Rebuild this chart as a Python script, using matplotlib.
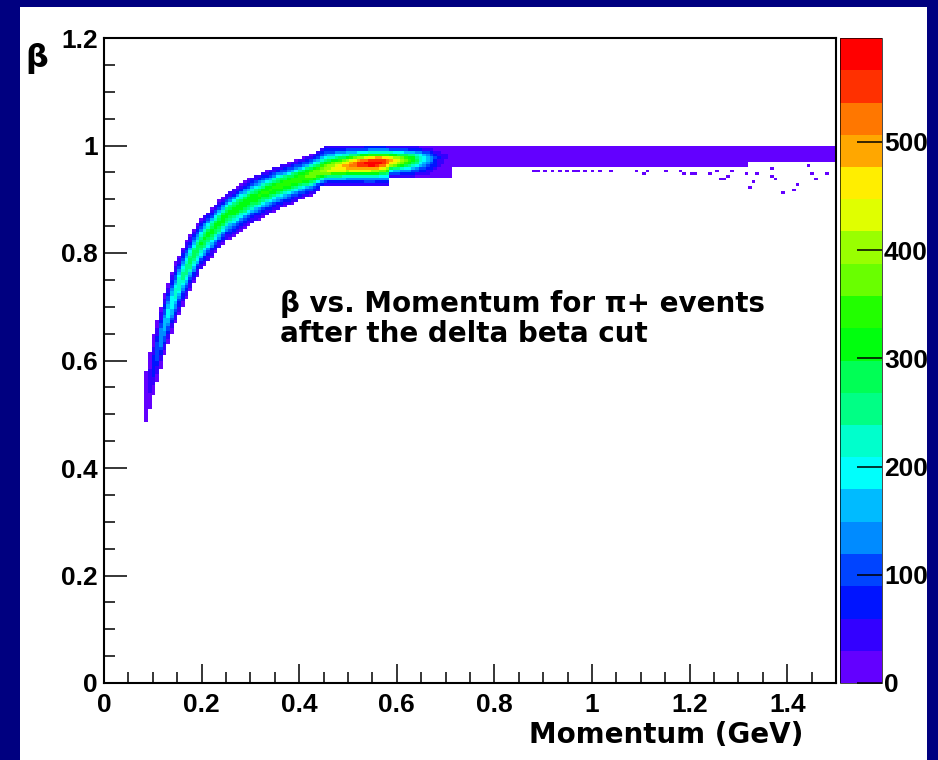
import colorsys
import numpy as np
import matplotlib
matplotlib.use("Agg")
import matplotlib.pyplot as plt
from matplotlib.colors import ListedColormap, BoundaryNorm
from matplotlib.patches import Rectangle
from matplotlib.ticker import FuncFormatter

# ---- pi+ beta vs momentum band (2D histogram contents) ----
# ridge of the band and the counts along it
ridge_momentum = [0.08, 0.09, 0.10, 0.11, 0.12, 0.14, 0.16, 0.18, 0.20, 0.25,
                  0.30, 0.35, 0.40, 0.45, 0.50, 0.53, 0.55, 0.57, 0.60, 0.63,
                  0.65, 0.67, 0.69, 0.71, 0.80, 1.00, 1.20, 1.40, 1.50]
ridge_beta = [0.50, 0.545, 0.585, 0.62, 0.655, 0.71, 0.755, 0.79, 0.82, 0.87,
              0.90, 0.922, 0.938, 0.952, 0.962, 0.966, 0.968, 0.970, 0.972, 0.974,
              0.976, 0.977, 0.978, 0.980, 0.981, 0.982, 0.984, 0.986, 0.986]
peak_counts = [5, 30, 80, 120, 160, 210, 250, 280, 300, 315,
               325, 335, 350, 400, 500, 570, 596, 570, 440, 330,
               230, 130, 45, 22, 20, 16, 12, 8, 6]

# upper and lower limits of the populated band
edge_momentum = [0.08, 0.09, 0.10, 0.11, 0.12, 0.14, 0.16, 0.18, 0.20, 0.25,
                 0.30, 0.35, 0.40, 0.43, 0.45, 0.585, 0.585, 0.71, 0.71, 1.32,
                 1.32, 1.50]
upper_edge = [0.54, 0.60, 0.645, 0.68, 0.715, 0.77, 0.81, 0.84, 0.865, 0.91,
              0.94, 0.96, 0.975, 0.985, 1.0, 1.0, 1.0, 1.0, 1.0, 1.0,
              1.0, 1.0]
lower_edge = [0.465, 0.495, 0.53, 0.565, 0.598, 0.655, 0.70, 0.74, 0.77, 0.822,
              0.853, 0.878, 0.898, 0.91, 0.926, 0.926, 0.94, 0.94, 0.962, 0.962,
              0.972, 0.972]

# isolated single-count cells below the band at high momentum
tail_momentum = [0.878, 0.892, 0.906, 0.919, 0.933, 0.946, 0.960, 0.974, 0.987,
                 1.001, 1.018, 1.042, 1.093, 1.103, 1.117, 1.151, 1.165, 1.178,
                 1.192, 1.202, 1.212, 1.240, 1.253, 1.260, 1.274, 1.281, 1.288,
                 1.315, 1.322, 1.329, 1.342, 1.366, 1.369, 1.376, 1.393, 1.417,
                 1.420, 1.441, 1.451, 1.458, 1.482]
tail_beta = [0.955, 0.955, 0.955, 0.955, 0.955, 0.955, 0.955, 0.955, 0.955,
             0.955, 0.955, 0.955, 0.955, 0.946, 0.955, 0.955, 0.960, 0.955,
             0.950, 0.946, 0.950, 0.948, 0.954, 0.939, 0.936, 0.942, 0.954,
             0.948, 0.920, 0.930, 0.948, 0.945, 0.957, 0.936, 0.914, 0.917,
             0.926, 0.961, 0.948, 0.939, 0.948]

x_ticks = [0, 0.2, 0.4, 0.6, 0.8, 1.0, 1.2, 1.4]
y_ticks = [0, 0.2, 0.4, 0.6, 0.8, 1.0, 1.2]
z_ticks = [0, 100, 200, 300, 400, 500]

# ---- histogram grid ----
x_edges = np.linspace(0.0, 1.5, 201)
y_edges = np.linspace(0.0, 1.2, 241)
xc = 0.5 * (x_edges[:-1] + x_edges[1:])
yc = 0.5 * (y_edges[:-1] + y_edges[1:])

ridge = np.interp(xc, ridge_momentum, ridge_beta)
peak = np.interp(xc, ridge_momentum, peak_counts)
upper = np.interp(xc, edge_momentum, upper_edge)
lower = np.interp(xc, edge_momentum, lower_edge)

B = yc[:, None]
sig_up = np.maximum(upper - ridge, 1e-4) / 2.3
sig_lo = np.maximum(ridge - lower, 1e-4) / 2.3
sig = np.where(B >= ridge, sig_up, sig_lo)
counts = peak * np.exp(-0.5 * ((B - ridge) / sig) ** 2)
inside = (B >= lower) & (B <= upper) & (xc >= ridge_momentum[0])
counts = np.where(inside, counts, 0.0)
counts += np.histogram2d(tail_beta, tail_momentum, bins=[y_edges, x_edges])[0]

# ---- ROOT-like "pretty" palette with 20 contour levels ----
n_levels = 20
level_colors = []
for i in range(n_levels):
    idx = int((i + 0.99) * 50 / n_levels)
    hue = 280.0 - (idx + 1) * 280.0 / 50
    level_colors.append(colorsys.hls_to_rgb(hue / 360.0, 0.5, 1.0))
cmap = ListedColormap(level_colors)
zmax = float(np.max(peak_counts))
levels = np.linspace(0, zmax, n_levels + 1)
norm = BoundaryNorm(levels, n_levels)

# ---- figure ----
W, H = 938, 760
fig = plt.figure(figsize=(W / 100, H / 100), dpi=100, facecolor="#000080")
plt.rcParams["font.family"] = ["Liberation Sans", "DejaVu Sans"]
plt.rcParams["font.weight"] = "bold"

fig.patches.append(Rectangle((20 / W, 0), 907 / W, (H - 7) / H,
                             transform=fig.transFigure, facecolor="white",
                             edgecolor="none", zorder=-5))

ax_l, ax_r, ax_t, ax_b = 104, 836, 38, 683
ax = fig.add_axes([ax_l / W, 1 - ax_b / H, (ax_r - ax_l) / W, (ax_b - ax_t) / H])
masked = np.ma.masked_less_equal(counts, 0)
mesh = ax.pcolormesh(x_edges, y_edges, masked, cmap=cmap, norm=norm,
                     shading="flat")
ax.set_xlim(0, 1.5)
ax.set_ylim(0, 1.2)

fmt = FuncFormatter(lambda v, pos: f"{v:g}")
ax.set_xticks(x_ticks)
ax.set_yticks(y_ticks)
ax.set_xticks(np.arange(0, 1.5001, 0.05), minor=True)
ax.set_yticks(np.arange(0, 1.2001, 0.05), minor=True)
ax.xaxis.set_major_formatter(fmt)
ax.yaxis.set_major_formatter(fmt)
ax.tick_params(which="both", direction="in", top=False, right=False,
               width=1.1, colors="black", labelsize=19)
ax.tick_params(axis="y", which="major", length=16.5, pad=4.5)
ax.tick_params(axis="x", which="major", length=14, pad=7)
ax.tick_params(which="minor", length=8)
for sp in ax.spines.values():
    sp.set_linewidth(1.5)

# palette axis
cax = fig.add_axes([840 / W, 1 - ax_b / H, 42 / W, (ax_b - ax_t) / H])
cb = fig.colorbar(mesh, cax=cax, ticks=z_ticks)
cb.outline.set_linewidth(0.5)
cax.tick_params(direction="in", length=18, width=1.1, labelsize=19, pad=1.5)
cax.yaxis.set_major_formatter(FuncFormatter(lambda v, pos: f"{v:g}"))
cax.minorticks_off()

# titles
fig.text(803 / W, 1 - 735 / H, "Momentum (GeV)", ha="right", va="center",
         fontsize=20, fontweight="bold", family="DejaVu Sans")
fig.text(37 / W, 1 - 59 / H, "β", ha="center", va="center",
         fontsize=23, fontweight="bold", family="DejaVu Sans")
fig.text(280 / W, 1 - 312 / H, "β vs. Momentum for π+ events",
         ha="left", va="baseline", fontsize=20, fontweight="bold",
         family="DejaVu Sans")
fig.text(280 / W, 1 - 342 / H, "after the delta beta cut",
         ha="left", va="baseline", fontsize=20, fontweight="bold",
         family="DejaVu Sans")

# navy frame on top so edge text is cut like the canvas border
for (x0, y0, w, h) in [(0, 0, 20, H), (927, 0, W - 927, H), (0, 0, W, 7)]:
    fig.patches.append(Rectangle((x0 / W, 1 - (y0 + h) / H), w / W, h / H,
                                 transform=fig.transFigure, facecolor="#000080",
                                 edgecolor="none", zorder=20))

fig.savefig("out.png", dpi=100, facecolor=fig.get_facecolor())
